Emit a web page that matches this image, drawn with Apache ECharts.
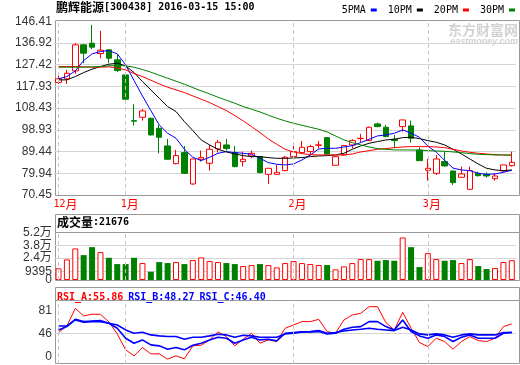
<!DOCTYPE html>
<html><head><meta charset="utf-8">
<script src="https://cdn.jsdelivr.net/npm/echarts@6/dist/echarts.min.js"></script>
<style>html,body{margin:0;padding:0;background:#fff}#c{width:520px;height:365px}</style>
</head><body><div id="c"></div>
<script>
// ---- data ----
const dates = ['2015-12-22','2015-12-23','2015-12-24','2015-12-25','2015-12-28','2015-12-29','2015-12-30','2015-12-31',
'2016-01-04','2016-01-05','2016-01-06','2016-01-07','2016-01-08','2016-01-11','2016-01-12','2016-01-13','2016-01-14','2016-01-15',
'2016-01-18','2016-01-19','2016-01-20','2016-01-21','2016-01-22','2016-01-25','2016-01-26','2016-01-27','2016-01-28','2016-01-29',
'2016-02-01','2016-02-02','2016-02-03','2016-02-04','2016-02-05','2016-02-15','2016-02-16','2016-02-17','2016-02-18','2016-02-19',
'2016-02-22','2016-02-23','2016-02-24','2016-02-25','2016-02-26','2016-02-29',
'2016-03-01','2016-03-02','2016-03-03','2016-03-04','2016-03-07','2016-03-08','2016-03-09','2016-03-10','2016-03-11','2016-03-14','2016-03-15'];
const open  = [119.62,121.23,124.73,136.11,136.84,132.32,133.92,129.55,122.98,102.95,104.45,104.01,99.64,91.90,84.17,88.99,75.27,86.07,84.32,90.59,92.34,88.99,85.05,87.52,87.23,79.50,79.50,81.11,87.23,88.99,89.42,92.20,95.55,83.44,87.96,92.34,95.10,94.24,101.53,100.07,94.82,100.37,100.66,90.15,81.25,79.94,85.05,80.96,78.19,72.94,79.94,79.50,77.60,80.96,83.30];
const close = [121.23,123.70,136.11,132.46,135.09,133.78,130.27,124.88,112.33,102.75,107.22,96.72,95.70,86.07,87.67,79.94,86.21,86.80,90.44,93.51,90.74,82.86,86.07,88.69,80.23,82.13,80.38,86.94,89.42,91.32,91.61,92.34,88.40,87.23,92.05,94.24,95.26,100.07,100.37,95.99,94.24,103.28,95.26,85.48,82.13,86.21,83.15,75.85,79.65,81.11,78.92,78.77,78.77,83.59,84.76];
const low   = [119.04,119.04,123.42,128.09,134.21,130.27,128.09,124.15,112.33,100.80,102.99,96.43,88.69,86.07,83.88,79.65,74.98,85.05,81.11,88.99,89.86,82.57,82.86,86.50,79.94,75.27,79.21,80.82,86.94,88.69,87.82,90.88,87.96,83.44,87.67,90.88,93.51,94.09,100.07,95.70,90.88,98.18,93.36,85.48,76.73,79.21,82.86,74.83,78.04,72.64,78.48,78.04,76.73,80.38,82.86];
const high  = [123.27,125.17,136.84,136.55,144.86,142.24,134.21,132.02,123.27,110.14,108.10,104.30,101.09,94.97,90.15,91.90,86.21,89.86,92.34,94.53,94.97,91.90,89.42,89.86,87.52,82.13,83.59,87.52,91.90,94.09,92.34,94.09,95.55,87.23,92.34,94.82,97.16,100.37,102.12,101.09,96.72,103.28,102.99,91.32,86.21,87.96,89.42,80.96,82.86,82.86,80.67,80.38,79.94,83.59,89.42];
const volume = [12750,22560,34550,27250,35970,30520,24310,17440,17440,24310,18530,9050,19620,18530,19620,17440,21800,24740,20710,19620,18530,17440,15260,16350,17440,16350,13810,18530,20710,18530,17440,16350,16350,11630,14900,18530,22890,22890,21070,21800,21070,46510,35970,14170,29430,22890,21070,21800,18530,22890,15260,11990,13080,19620,21676];
const ma5  = [121.23,122.25,124.73,129.25,132.17,133.19,133.63,132.17,127.36,120.50,113.79,107.37,101.09,97.45,95.26,90.44,86.94,85.48,86.94,88.69,89.42,88.99,88.69,88.25,86.50,84.61,83.88,83.59,84.02,85.77,87.96,90.59,90.88,90.88,91.46,92.05,93.36,94.82,96.28,96.72,97.45,98.90,97.45,95.70,91.80,89.20,85.60,82.20,81.40,81.11,79.94,79.50,79.65,80.38,81.25];
const ma10 = [120.79,120.79,122.25,124.00,125.46,126.63,127.65,128.09,126.92,124.00,120.06,116.41,112.77,109.12,106.93,102.55,98.61,94.53,92.34,90.44,89.28,88.40,87.67,87.23,87.23,86.80,86.50,86.50,86.65,86.80,87.23,87.52,87.67,87.96,88.69,90.44,91.90,93.07,93.80,94.53,94.82,95.55,95.70,95.11,94.24,93.51,92.34,90.44,88.40,86.21,84.02,82.13,81.40,81.11,81.40];
const ma20 = [126.63,126.63,126.63,126.48,126.33,126.33,126.48,126.04,125.17,123.56,122.25,120.65,119.04,117.58,116.41,115.25,113.79,112.33,110.87,109.12,107.37,105.18,102.85,100.37,97.74,94.97,92.63,90.44,89.28,88.55,88.11,87.96,87.96,87.96,87.96,88.40,89.28,89.86,90.44,90.74,91.17,91.46,91.61,91.61,91.61,91.46,91.17,90.44,89.71,89.13,88.69,88.40,88.11,87.96,87.96];
const ma30 = [126.33,126.33,126.33,126.33,126.48,126.63,126.92,127.07,126.92,126.33,125.31,124.15,122.83,121.52,120.21,118.89,117.43,115.98,114.66,113.20,111.89,110.58,109.12,107.95,106.78,105.33,104.01,102.85,101.82,100.95,100.07,99.20,98.03,96.28,94.53,93.36,92.34,91.46,90.74,90.44,90.15,90.15,90.15,90.01,89.86,89.71,89.57,89.28,88.99,88.55,88.25,88.11,87.96,87.96,87.82];
const rsiA = [47.3,57.3,83.8,72.3,75.0,74.8,63.5,45.3,21.3,12.3,24.8,15.3,15.3,7.3,12.3,7.8,27.3,28.3,36.3,48.3,41.3,27.3,37.3,46.3,31.3,36.3,33.8,53.8,58.8,63.8,63.8,67.3,48.8,46.3,66.3,73.8,76.3,86.3,86.3,62.3,51.3,77.8,53.8,32.3,26.3,38.8,33.8,22.3,33.8,41.3,35.3,33.8,38.8,56.3,60.3];
const rsiB = [51.3,56.3,67.3,63.8,64.8,65.3,61.3,53.8,38.8,31.3,36.3,28.8,27.3,22.3,24.8,21.3,28.3,31.3,36.3,40.3,38.8,31.3,36.3,40.3,36.3,37.3,34.8,46.3,47.3,48.3,48.3,48.8,45.3,46.3,52.3,55.3,56.3,63.8,63.8,56.3,51.3,66.3,48.8,42.3,38.8,43.8,41.3,33.8,40.3,43.8,38.8,38.8,38.8,46.3,47.8];
const rsiC = [57.3,57.3,66.3,62.8,63.8,63.8,61.3,58.8,51.3,46.3,47.8,43.8,42.3,41.3,41.3,37.3,40.3,40.3,42.3,44.8,43.8,40.3,43.3,42.3,40.3,40.3,40.3,45.3,46.3,48.3,48.8,50.3,46.3,47.3,49.8,51.3,52.3,53.8,52.3,51.3,50.3,55.3,51.3,45.3,43.8,45.3,43.8,40.3,43.8,45.3,43.8,43.8,43.8,47.3,47.3];
const priceTicks = [70.45,79.94,89.44,98.93,108.43,117.93,127.42,136.92,146.41];
const volumeTicks = [0,9395,24000,38000,52000];
const rsiTicks = [0,46,81];
const maNames = ['5PMA','10PM','20PM','30PM'];
const maColors = ['#0000ff','#000000','#ff0000','#008000'];
const stockName = '鹏辉能源', stockCode = '[300438]', stamp = '2016-03-15 15:00';
const volLabel = '成交量', volLast = '21676';
const rsiLabels = ['RSI_A:55.86','RSI_B:48.27','RSI_C:46.40'];

// ---- build ----
const MONO = "'DejaVu Sans Mono', monospace";
const CJK = "'Noto Sans CJK SC'";
const SANS = "'Liberation Sans', 'Noto Sans CJK SC'";
const monthStart = dates.map((d,i)=> i===0 || d.slice(5,7)!==dates[i-1].slice(5,7));
const monthLines = dates.filter((d,i)=>monthStart[i]).map(d=>({xAxis:d}));
const mk = {silent:true, symbol:['none','none'], label:{show:false}, animation:false,
  lineStyle:{type:[4,3], color:'#c8c8c8', width:1}, data:monthLines};

const FL = 55.5, FW = 464, DL = 54.3, DW = 461.7;
const frame = {show:true, borderColor:'#999', borderWidth:1, backgroundColor:'transparent'};
const grid = [
  Object.assign({left:FL, top:20.5, width:FW, height:175}, frame),
  {left:DL, top:20.5, width:DW, height:174.5},
  Object.assign({left:FL, top:214.5, width:FW, height:18}, frame),
  Object.assign({left:FL, top:232.5, width:FW, height:48}, frame),
  {left:DL, top:232.5, width:DW, height:47.5},
  Object.assign({left:FL, top:287.5, width:FW, height:13}, frame),
  Object.assign({left:FL, top:300.5, width:FW, height:63}, frame),
  {left:DL, top:300.5, width:DW, height:63.5}
];
const dataGrids = {1:true, 4:true, 7:true};
const xAxis = grid.map((g,k)=> dataGrids[k] ? {
  gridIndex:k, type:'category', data:dates, boundaryGap:true,
  axisLine:{show:false}, axisTick:{show:false}, splitLine:{show:false},
  axisLabel: k===1 ? {show:true, interval:(i)=>monthStart[i], margin:3, align:'left', padding:[0,0,0,-5],
     formatter:(v)=>'{d|'+(+v.slice(5,7))+'}{c|月}',
     rich:{d:{fontFamily:MONO,fontSize:10,color:'#ff0000'}, c:{fontFamily:CJK,fontSize:12,color:'#ff0000'}}} : {show:false}
} : {gridIndex:k, type:'value', show:false});

const labelStyle = {color:'#333', fontFamily:SANS, fontSize:12, margin:2.5, showMinLabel:true, showMaxLabel:true, hideOverlap:false};
const volFmt = (v)=> v>=10000 ? (v/10000).toFixed(1)+'万' : String(v);
const yAxis = grid.map((g,k)=>({gridIndex:k, type:'value', show:false}));
yAxis[1] = {gridIndex:1, type:'value', min:70.45, max:146.76,
  axisLine:{show:false}, axisTick:{show:false, customValues:priceTicks.slice(1,-1)},
  axisLabel:Object.assign({customValues:priceTicks, formatter:(v)=>v.toFixed(2)}, labelStyle),
  splitLine:{show:true, lineStyle:{color:'#d4d4d4'}}};
yAxis[4] = {gridIndex:4, type:'value', min:0, max:52000,
  axisLine:{show:false}, axisTick:{show:false, customValues:volumeTicks.slice(1,-1)},
  axisLabel:Object.assign({customValues:volumeTicks.slice(1), formatter:volFmt}, labelStyle),
  splitLine:{show:true, lineStyle:{color:'#d4d4d4'}}};
// separate axis carrying only the zero label of the volume panel (avoids overlap hiding)
yAxis[8] = {gridIndex:4, type:'value', min:0, max:52000, position:'left',
  axisLine:{show:false}, axisTick:{show:false}, splitLine:{show:false},
  axisLabel:Object.assign({customValues:volumeTicks.slice(0,1), formatter:volFmt}, labelStyle)};
yAxis[7] = {gridIndex:7, type:'value', min:0, max:95.6,
  axisLine:{show:false}, axisTick:{show:false, customValues:[46]},
  axisLabel:Object.assign({customValues:rsiTicks, formatter:(v)=> v===0 ? '{z|0}' : String(v),
     rich:{z:{color:'#333', fontFamily:SANS, fontSize:12, padding:[0,0,14,0]}}}, labelStyle),
  splitLine:{show:true, lineStyle:{color:'#d4d4d4'}}};

const series = [];
series.push({type:'candlestick', xAxisIndex:1, yAxisIndex:1, barWidth:6, z:2,
  data: open.map((o,i)=>[o, close[i], low[i], high[i]]),
  itemStyle:{color:'#ffffff', color0:'#008000', borderColor:'#ff0000', borderColor0:'#008000', borderWidth:1},
  markLine: mk});
[ma5, ma10, ma20, ma30].forEach((arr,j)=>{
  series.push({type:'line', name:maNames[j], xAxisIndex:1, yAxisIndex:1, data:arr, symbol:'none', z:3,
    lineStyle:{width:1, color:maColors[j]}, itemStyle:{color:maColors[j]}});
});
series.push({type:'bar', xAxisIndex:4, yAxisIndex:4, barWidth:6, z:2, markLine: mk,
  data: volume.map((v,i)=>({value:v, itemStyle: close[i]>=open[i]
     ? {color:'#ffffff', borderColor:'#ff0000', borderWidth:1}
     : {color:'#008000', borderColor:'#008000', borderWidth:0}}))});
[[rsiA,'#ff0000',1],[rsiB,'#0000ff',1.6],[rsiC,'#0000ff',1.6]].forEach(([arr,c,w],j)=>{
  series.push({type:'line', xAxisIndex:7, yAxisIndex:7, data:arr, symbol:'none', z:3,
    lineStyle:{width:w, color:c}, itemStyle:{color:c}, markLine: j===0 ? mk : undefined});
});

const option = {
  animation:false,
  backgroundColor:'#ffffff',
  title:[
    {left:56, top:1, padding:0, text:'{c|'+stockName+'}{a|'+stockCode+' '+stamp+'}',
      textStyle:{rich:{c:{fontFamily:CJK,fontSize:12,color:'#000'}, a:{fontFamily:MONO,fontSize:10,color:'#000'}}}},
    {left:57, top:216.5, padding:0, text:'{c|'+volLabel+'}{a|:'+volLast+'}',
      textStyle:{rich:{c:{fontFamily:CJK,fontSize:12,color:'#000'}, a:{fontFamily:MONO,fontSize:10,color:'#000'}}}},
    {left:57, top:288.5, padding:0, text:'{r|'+rsiLabels[0]+'} {b|'+rsiLabels[1]+'} {b|'+rsiLabels[2]+'}',
      textStyle:{rich:{r:{fontFamily:MONO,fontSize:10,color:'#ff0000'}, b:{fontFamily:MONO,fontSize:10,color:'#0000ff'}}}},
    {right:2, top:23, padding:0, z:0, text:'东方财富网',
      textStyle:{fontFamily:CJK, fontSize:14, fontWeight:'bold', color:'#d2d2d2'}},
    {right:2, top:37, padding:0, z:0, text:'eastmoney.com',
      textStyle:{fontFamily:"'Liberation Sans'", fontSize:9, fontWeight:'bold', fontStyle:'italic', color:'#d2d2d2'}}
  ],
  legend:{right:5, top:5, padding:0, data:maNames, icon:'rect', itemWidth:6, itemHeight:3, itemGap:11,
    align:'right', selectedMode:false, textStyle:{fontFamily:MONO, fontSize:10, color:'#000'}},
  grid, xAxis, yAxis, series
};
const chart = echarts.init(document.getElementById('c'), null, {renderer:'canvas'});
chart.setOption(option);
</script></body></html>
